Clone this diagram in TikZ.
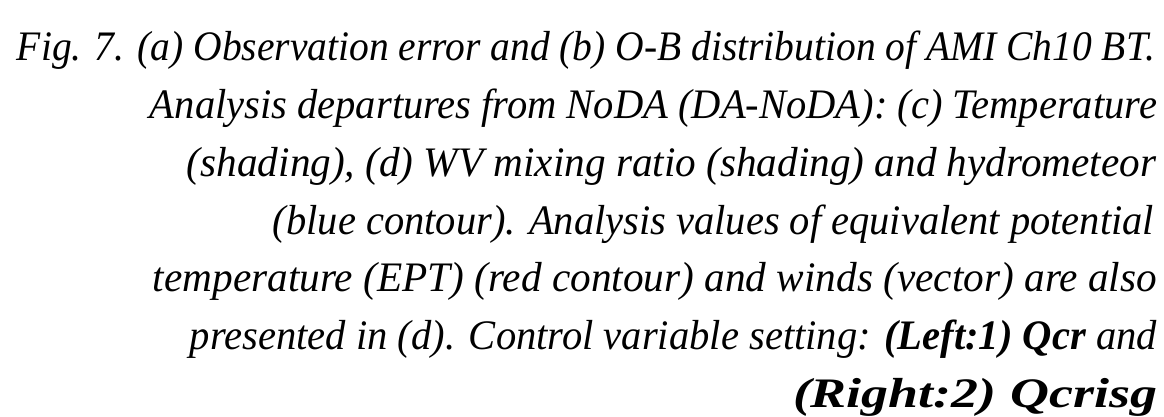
\documentclass[tikz,border=0pt]{standalone}
\usepackage{fontspec}
\setmainfont{Liberation Serif}
\usepackage{graphicx}
\newcommand\fitw[2]{\resizebox{#1pt}{\height}{#2}}
\begin{document}
\begin{tikzpicture}[x=1pt,y=-1pt,
  capline/.style={anchor=base east, inner sep=0pt, outer sep=0pt, font=\fontsize{42}{50}\selectfont\itshape}]
\useasboundingbox (0,0) rectangle (1164,416);
\node[capline] (l1) at (1155,60) {\fitw{1138}{Fig. 7. (a) Observation error and (b) O-B distribution of AMI Ch10 BT.}};
\node[capline] (l2) at (1157,118) {\fitw{1007}{Analysis departures from NoDA (DA-NoDA): (c) Temperature}};
\node[capline] (l3) at (1156,176) {\fitw{969}{(shading), (d) WV mixing ratio (shading) and hydrometeor}};
\node[capline] (l4) at (1154,234) {\fitw{881}{(blue contour). Analysis values of equivalent potential}};
\node[capline] (l5) at (1157,291) {\fitw{1004}{temperature (EPT) (red contour) and winds (vector) are also}};
\node[capline] (l6) at (1157,349) {\fitw{967}{presented in (d). Control variable setting: \textbf{(Left:1) Qcr} and}};
\node[capline] (l7) at (1157,407) {\fitw{364}{\textbf{(Right:2) Qcrisg}}};
\end{tikzpicture}
\end{document}
